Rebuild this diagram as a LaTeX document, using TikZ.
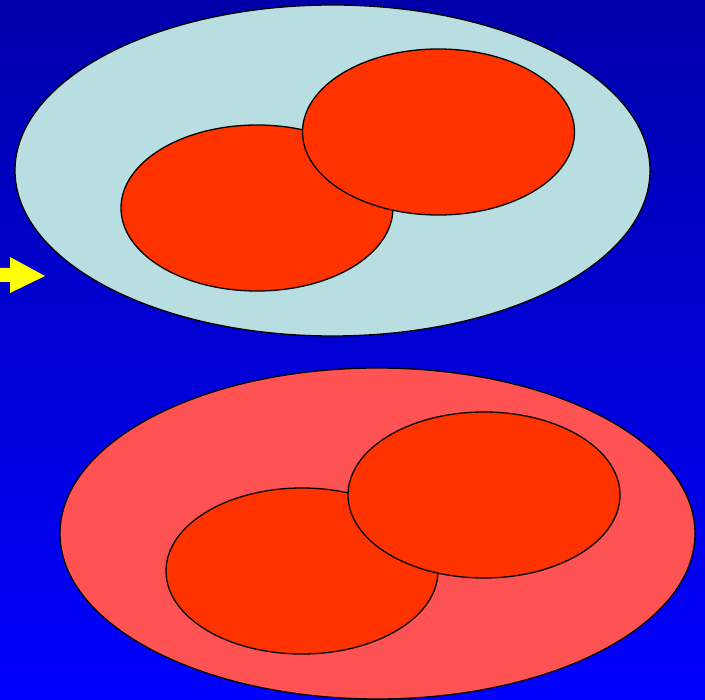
\documentclass[tikz,border=0pt]{standalone}
\usetikzlibrary{shapes.geometric}
\definecolor{bgtop}{RGB}{0,0,170}
\definecolor{bgbot}{RGB}{0,0,255}
\definecolor{lightcyan}{RGB}{185,222,225}
\definecolor{salmon}{RGB}{255,82,82}
\definecolor{redorange}{RGB}{255,51,0}
\definecolor{arrowyellow}{RGB}{255,255,0}
\begin{document}
\begin{tikzpicture}[x=1pt,y=-1pt,
  outer/.style={ellipse,draw=black,line width=1.3pt,minimum width=635pt,minimum height=331pt,inner sep=0pt},
  inner/.style={ellipse,draw=black,line width=1.3pt,fill=redorange,minimum width=272pt,minimum height=166pt,inner sep=0pt}]
\useasboundingbox (0,0) rectangle (705,700);
\shade[top color=bgtop,bottom color=bgbot] (0,0) rectangle (705,700);
\node[outer,fill=lightcyan] (top) at (332.5,170.5) {};
\node[inner] (tl) at (257,208) {};
\node[inner] (tr) at (438.5,132) {};
\node[outer,fill=salmon] (bot) at (377.5,533.5) {};
\node[inner] (bl) at (302,571) {};
\node[inner] (br) at (484,495) {};
\fill[arrowyellow] (0,268) -- (10,268) -- (10,257) -- (45,276) -- (10,293) -- (10,282) -- (0,282) -- cycle;
\end{tikzpicture}
\end{document}
